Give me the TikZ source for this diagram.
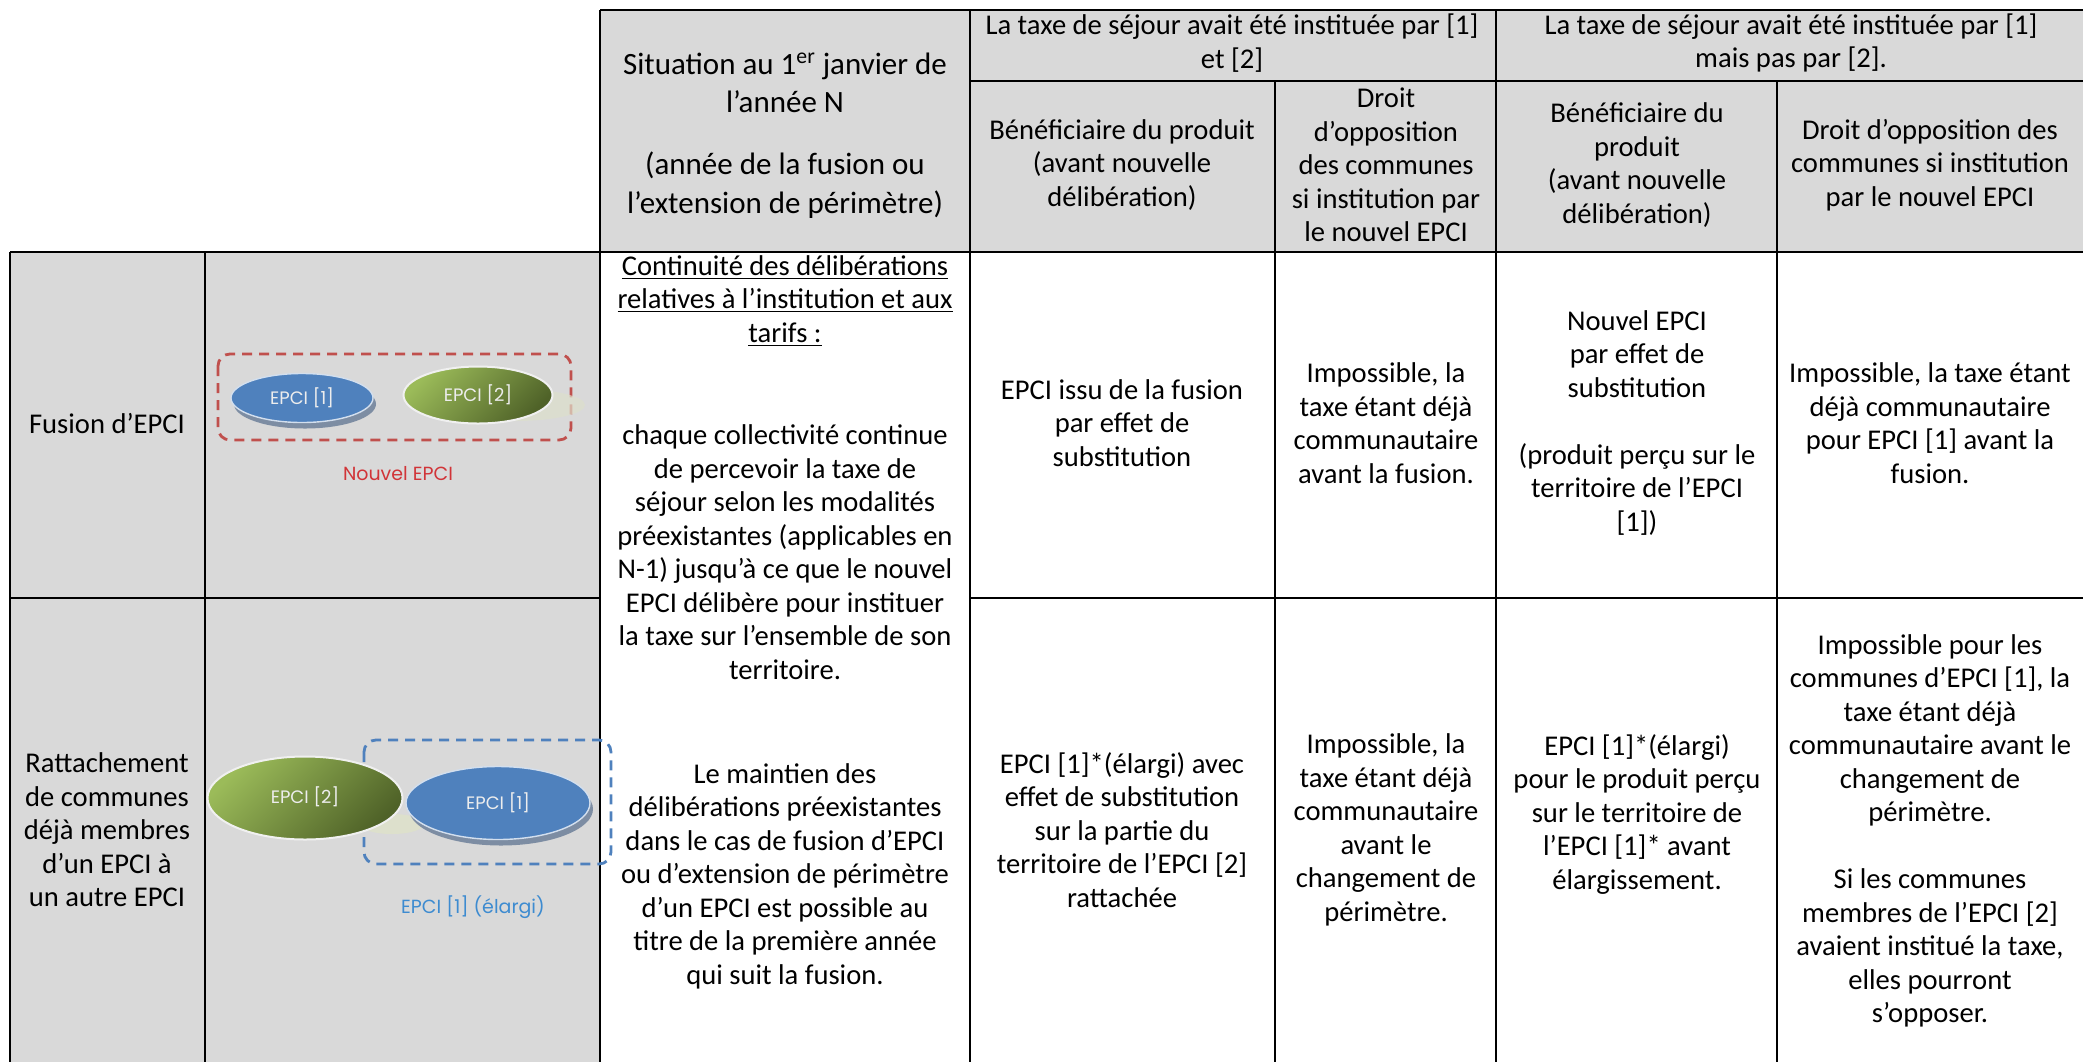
\documentclass[tikz,border=0pt]{standalone}
\usepackage{fontspec}
\setmainfont{Carlito}
\newfontfamily\gothic{Poppins}
\usetikzlibrary{shapes.geometric}
\definecolor{cellgray}{HTML}{D9D9D9}
\definecolor{epcired}{HTML}{C0504D}
\definecolor{epciblue}{HTML}{4F81BD}
\definecolor{shadowblue}{HTML}{7D8DA3}
\definecolor{lightgreen}{HTML}{9BBB59}
\definecolor{darkgreen}{HTML}{4F6228}
\definecolor{labelred}{HTML}{D13438}
\definecolor{labelblue}{HTML}{3D8BD0}
\definecolor{glow}{HTML}{DDE0CC}
\begin{document}
\begin{tikzpicture}[x=0.5pt,y=-0.5pt,
  grid/.style={line width=1.2pt, black},
  body/.style={align=center, font=\fontsize{14.3}{16.75}\selectfont, inner sep=0pt},
  head/.style={align=center, font=\fontsize{15.5}{19.25}\selectfont, inner sep=0pt},
  pilltext/.style={text=white!93!black, font=\gothic\fontsize{9}{10}\selectfont},
  bluepill/.style={ellipse, fill=epciblue, draw=white!75!epciblue, line width=0.7pt, inner sep=0pt, pilltext},
  greenpill/.style={ellipse, draw=white!94!black, line width=1pt, inner sep=0pt, pilltext,
    top color=lightgreen, bottom color=darkgreen, shading angle=45},
  pillshadow/.style={ellipse, fill=shadowblue, inner sep=0pt},
  glowshape/.style={ellipse, fill=glow, inner sep=0pt},
  frame/.style={dash pattern=on 5pt off 3.5pt, line width=1.4pt, rounded corners=6pt},
  caption/.style={font=\gothic\fontsize{9.5}{11}\selectfont, inner sep=0pt},
]
\useasboundingbox (0,0) rectangle (2083,1062);

% cell backgrounds
\fill[cellgray] (600,10) rectangle (2083,252);
\fill[cellgray] (10,252) rectangle (600,1062);

% grid
\draw[grid] (600,10) -- (2083,10);
\draw[grid] (970,81) -- (2083,81);
\draw[grid] (10,252) -- (2083,252);
\draw[grid] (10,598) -- (600,598);
\draw[grid] (970,598) -- (2083,598);
\draw[grid] (10,252) -- (10,1062);
\draw[grid] (205,252) -- (205,1062);
\draw[grid] (600,10) -- (600,1062);
\draw[grid] (970,10) -- (970,1062);
\draw[grid] (1275,81) -- (1275,1062);
\draw[grid] (1496,10) -- (1496,1062);
\draw[grid] (1777,81) -- (1777,1062);

% header
\node[head] (hsit1) at (785,83) {Situation au 1\textsuperscript{er} janvier de\\l’année N};
\node[head] (hsit2) at (785,185) {(année de la fusion ou\\l’extension de périmètre)};
\node[body] (hA) at (1232,43) {La taxe de séjour avait été instituée par [1]\\et [2]};
\node[body] (hB) at (1791,43) {La taxe de séjour avait été instituée par [1]\\mais pas par [2].};
\node[body] (sA1) at (1122,165) {Bénéficiaire du produit\\(avant nouvelle\\délibération)};
\node[body] (sA2) at (1386,165) {Droit\\d’opposition\\des communes\\si institution par\\le nouvel EPCI};
\node[body] (sB1) at (1637,165) {Bénéficiaire du\\produit\\(avant nouvelle\\délibération)};
\node[body] (sB2) at (1930,165) {Droit d’opposition des\\communes si institution\\par le nouvel EPCI};

% row 1
\node[body] (fus) at (107,424) {Fusion d’EPCI};
\node[body] (a1) at (1122,423) {EPCI issu de la fusion\\par effet de\\substitution};
\node[body] (b1) at (1386,423) {Impossible, la\\taxe étant déjà\\communautaire\\avant la fusion.};
\node[body] (c1) at (1637,423) {Nouvel EPCI\\par effet de\\substitution\\\mbox{}\\(produit perçu sur le\\territoire de l’EPCI\\{[1])}};
\node[body] (d1) at (1930,423) {Impossible, la taxe étant\\déjà communautaire\\pour EPCI [1] avant la\\fusion.};

% row 2
\node[body] (rat) at (107,830) {Rattachement\\de communes\\déjà membres\\d’un EPCI à\\un autre EPCI};
\node[body] (a2) at (1122,830) {EPCI [1]*(élargi) avec\\effet de substitution\\sur la partie du\\territoire de l’EPCI [2]\\rattachée};
\node[body] (b2) at (1386,830) {Impossible, la\\taxe étant déjà\\communautaire\\avant le\\changement de\\périmètre.};
\node[body] (c2) at (1637,814) {EPCI [1]*(élargi)\\pour le produit perçu\\sur le territoire de\\l’EPCI [1]* avant\\élargissement.};
\node[body] (d2) at (1930,831) {Impossible pour les\\communes d’EPCI [1], la\\taxe étant déjà\\communautaire avant le\\changement de\\périmètre.\\\mbox{}\\Si les communes\\membres de l’EPCI [2]\\avaient institué la taxe,\\elles pourront\\s’opposer.};

% middle column
\node[body] (m1) at (785,301) {\underline{Continuité des délibérations}\\\underline{relatives à l’institution et aux}\\\underline{tarifs :}};
\node[body] (m2) at (785,552) {chaque collectivité continue\\de percevoir la taxe de\\séjour selon les modalités\\préexistantes (applicables en\\N-1) jusqu’à ce que le nouvel\\EPCI délibère pour instituer\\la taxe sur l’ensemble de son\\territoire.};
\node[body] (m3) at (785,876) {Le maintien des\\délibérations préexistantes\\dans le cas de fusion d’EPCI\\ou d’extension de périmètre\\d’un EPCI est possible au\\titre de la première année\\qui suit la fusion.};

% diagram row 1 : fusion
\draw[frame, epcired] (218,354) rectangle (571,440);
\node[pillshadow, minimum width=71pt, minimum height=24.5pt] (f1s) at (305,404) {};
\node[bluepill, minimum width=71pt, minimum height=24.5pt] (f1) at (302,398) {EPCI [1]};
\node[glowshape, minimum width=70pt, minimum height=16pt, opacity=0.7] (f2g) at (515,405) {};
\node[greenpill, minimum width=74.5pt, minimum height=28.5pt] (f2) at (478,395) {EPCI [2]};
\node[caption, text=labelred] (nf) at (398,474) {Nouvel EPCI};

% diagram row 2 : rattachement
\draw[frame, epciblue] (364,740) rectangle (611,864);
\node[glowshape, minimum width=32pt, minimum height=10pt] (r2g) at (392,824) {};
\node[greenpill, minimum width=97.5pt, minimum height=41.5pt] (r2) at (305,798) {\raisebox{3pt}{EPCI [2]}};
\node[pillshadow, minimum width=92pt, minimum height=36.5pt] (r1s) at (501,809) {};
\node[bluepill, minimum width=92pt, minimum height=36.5pt] (r1) at (498,803) {\raisebox{2pt}{EPCI [1]}};
\node[caption, text=labelblue] (nr) at (473,907) {EPCI [1] (élargi)};
\end{tikzpicture}
\end{document}
